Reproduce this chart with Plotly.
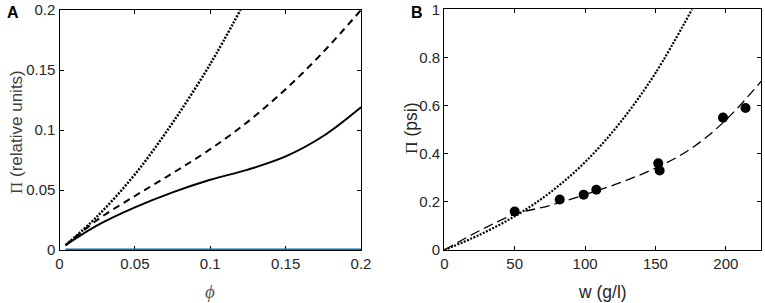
import plotly.graph_objects as go

# ---------- Panel A data (phi vs relative osmotic pressure) ----------
phi_solid = [0.004, 0.025, 0.05, 0.075, 0.1, 0.125, 0.15, 0.175, 0.2]
pi_solid = [0.004, 0.0205, 0.0355, 0.048, 0.0585, 0.067, 0.078, 0.095, 0.119]

phi_dash = [0.004, 0.025, 0.05, 0.075, 0.1, 0.125, 0.15, 0.175, 0.2]
pi_dash = [0.004, 0.025, 0.045, 0.064, 0.084, 0.107, 0.134, 0.165, 0.2]

phi_dot = [0.004, 0.025, 0.05, 0.075, 0.1, 0.12]
pi_dot = [0.004, 0.028, 0.063, 0.106, 0.155, 0.2]

phi_blue = [0.004, 0.05, 0.1, 0.15, 0.2]
pi_blue = [0.0, 0.0, 0.0, 0.0, 0.0]

# ---------- Panel B data (w vs osmotic pressure, psi) ----------
w_pts = [50, 82, 99, 108, 152, 153, 198, 214]
pi_pts = [0.16, 0.21, 0.23, 0.25, 0.36, 0.33, 0.55, 0.59]

w_dash = [0, 25, 50, 75, 100, 125, 150, 175, 200, 225]
pib_dash = [0.0, 0.08, 0.148, 0.185, 0.23, 0.28, 0.34, 0.42, 0.54, 0.70]

w_dot = [0, 25, 50, 75, 100, 125, 150, 176]
pib_dot = [0.0, 0.063, 0.14, 0.238, 0.365, 0.53, 0.735, 1.0]

# tick labels
a_ticks = [0, 0.05, 0.1, 0.15, 0.2]
a_ticktext = ["0", "0.05", "0.1", "0.15", "0.2"]
bx_ticks = [0, 50, 100, 150, 200]
bx_ticktext = ["0", "50", "100", "150", "200"]
by_ticks = [0, 0.2, 0.4, 0.6, 0.8, 1.0]
by_ticktext = ["0", "0.2", "0.4", "0.6", "0.8", "1"]

# axis titles / panel letters
title_ax = "<i>ϕ</i>"
title_ay = "<span style='font-family:Liberation Serif'>Π</span> (relative units)"
title_bx = "w (g/l)"
title_by = "<span style='font-family:Liberation Serif'>Π</span> (psi)"

W, H = 765, 303
FONT = "Liberation Sans, Arial, sans-serif"
TXT = "#262626"

fig = go.Figure()

# Panel A traces
fig.add_trace(go.Scatter(x=phi_blue, y=pi_blue, mode="lines",
                         line=dict(color="#0072BD", width=3),
                         xaxis="x", yaxis="y", showlegend=False))
fig.add_trace(go.Scatter(x=phi_solid, y=pi_solid, mode="lines", line_shape="spline",
                         line=dict(color="black", width=2),
                         xaxis="x", yaxis="y", showlegend=False))
fig.add_trace(go.Scatter(x=phi_dash, y=pi_dash, mode="lines", line_shape="spline",
                         line=dict(color="black", width=2, dash="7px,5px"),
                         xaxis="x", yaxis="y", showlegend=False))
fig.add_trace(go.Scatter(x=phi_dot, y=pi_dot, mode="lines", line_shape="spline",
                         line=dict(color="black", width=2.5, dash="2px,1.5px"),
                         xaxis="x", yaxis="y", showlegend=False))

# Panel B traces
fig.add_trace(go.Scatter(x=w_dot, y=pib_dot, mode="lines", line_shape="spline",
                         line=dict(color="black", width=2.2, dash="2px,1.5px"),
                         xaxis="x2", yaxis="y2", showlegend=False))
fig.add_trace(go.Scatter(x=w_dash, y=pib_dash, mode="lines", line_shape="spline",
                         line=dict(color="black", width=1.3, dash="10px,5px"),
                         xaxis="x2", yaxis="y2", showlegend=False))
fig.add_trace(go.Scatter(x=w_pts, y=pi_pts, mode="markers",
                         marker=dict(color="black", size=10),
                         xaxis="x2", yaxis="y2", showlegend=False))

axis_common = dict(showline=True, linecolor="black", linewidth=1.2, mirror="ticks",
                   ticks="inside", ticklen=4, tickcolor="black", tickwidth=1,
                   showgrid=False, zeroline=False, automargin=False,
                   tickfont=dict(family=FONT, size=15, color=TXT))


def paper_ann(text, px, py, size, color, angle=0, family=FONT):
    return dict(text=text, x=px / W, y=1 - py / H, xref="paper", yref="paper",
                xanchor="center", yanchor="middle", showarrow=False, textangle=angle,
                font=dict(family=family, size=size, color=color))


fig.update_layout(
    width=W, height=H,
    margin=dict(l=0, r=0, t=0, b=0),
    paper_bgcolor="white", plot_bgcolor="white",
    xaxis=dict(axis_common, domain=[59.5 / W, 361 / W], range=[0, 0.2],
               tickvals=a_ticks, ticktext=a_ticktext, anchor="y", layer="below traces"),
    yaxis=dict(axis_common, domain=[(H - 250) / H, (H - 10) / H], range=[0, 0.2],
               tickvals=a_ticks, ticktext=a_ticktext, anchor="x"),
    xaxis2=dict(axis_common, domain=[444.3 / W, 761 / W], range=[0, 225],
                tickvals=bx_ticks, ticktext=bx_ticktext, anchor="y2"),
    yaxis2=dict(axis_common, domain=[(H - 250) / H, (H - 9.3) / H], range=[0, 1],
                tickvals=by_ticks, ticktext=by_ticktext, anchor="x2"),
    annotations=[
        paper_ann(title_ax, 210, 291, 19, "#555555", family="Liberation Serif, serif"),
        paper_ann(title_ay, 17, 132, 17, "#404040", angle=-90),
        paper_ann(title_bx, 602, 292, 17.5, TXT),
        paper_ann(title_by, 411, 128, 17.5, TXT, angle=-90),
        paper_ann("<b>A</b>", 13, 13, 16, "black"),
        paper_ann("<b>B</b>", 417, 13, 16, "black"),
    ],
)

fig.write_html("out.html", config={"displayModeBar": False},
               post_script="document.body.style.margin='0px';document.body.style.padding='0px';")
